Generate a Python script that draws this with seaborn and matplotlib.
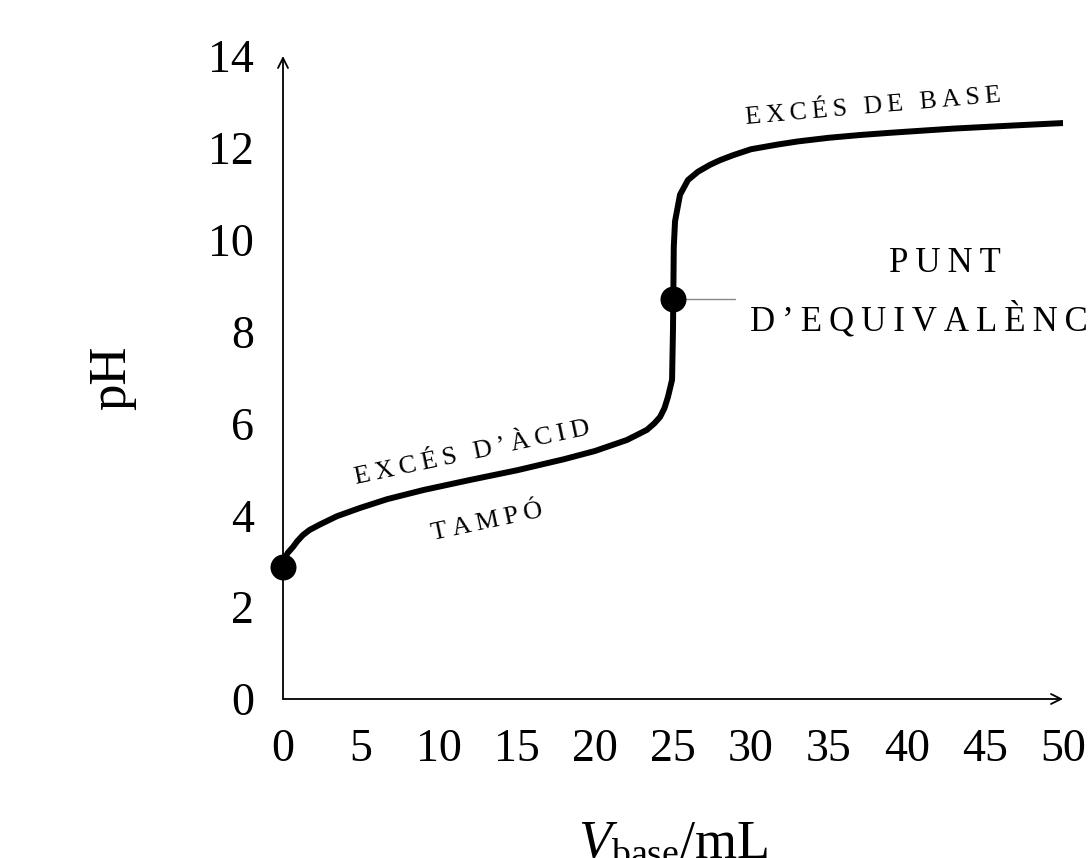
import numpy as np
import pandas as pd
import matplotlib
matplotlib.use('Agg')
import matplotlib.pyplot as plt
import seaborn as sns

sns.set_style("white")
plt.rcParams['font.family'] = ['Liberation Serif', 'DejaVu Serif']
plt.rcParams['mathtext.fontset'] = 'custom'
plt.rcParams['mathtext.rm'] = 'Liberation Serif'
plt.rcParams['mathtext.it'] = 'Liberation Serif:italic'
plt.rcParams['text.color'] = 'black'
plt.rcParams['axes.labelcolor'] = 'black'

# titration curve
v_base = [0, 0.13, 0.3, 0.64, 0.9, 1.28, 1.7, 2.37, 3.46, 4.94, 6.67, 9, 12, 15, 18, 20,
          22.05, 23.33, 23.8, 24.17, 24.45, 24.68, 24.94, 25.0, 25.0, 25.05, 25.13, 25.45,
          25.96, 26.6, 27.37, 28.0, 28.85, 30.0, 31.67, 33, 35, 37, 39, 43, 47, 50]
ph = [2.87, 3.07, 3.18, 3.31, 3.43, 3.57, 3.68, 3.8, 3.98, 4.16, 4.35, 4.55, 4.77, 4.98,
      5.22, 5.40, 5.64, 5.86, 6.0, 6.14, 6.33, 6.58, 6.95, 7.4, 8.72, 9.84, 10.4, 10.98,
      11.3, 11.48, 11.63, 11.73, 11.84, 11.97, 12.07, 12.14, 12.22, 12.28, 12.33, 12.42,
      12.49, 12.54]
pts_v = [0, 25]
pts_ph = [2.87, 8.72]
xticks = list(range(0, 51, 5))
yticks = list(range(0, 15, 2))

df = pd.DataFrame({"v": v_base, "ph": ph})
dots = pd.DataFrame({"v": pts_v, "ph": pts_ph})

def sc(s):
    # fake letter-spaced small caps
    return "\u2009".join(s.upper())

fig = plt.figure(figsize=(10.89, 8.58), dpi=100)
ax = fig.add_axes([283/1089, 1-699/858, 780/1089, 643/858])

sns.lineplot(data=df, x="v", y="ph", ax=ax, color="black", lw=4.3, sort=False)
sns.scatterplot(data=dots, x="v", y="ph", ax=ax, color="black", s=300,
                edgecolor="black", zorder=5, clip_on=False)

ax.set_xlim(0, 50)
ax.set_ylim(0, 14)
ax.set_xticks(xticks)
ax.set_yticks(yticks)
ax.tick_params(direction="inout", length=16, width=1, color="#999999",
               labelcolor="black", labelsize=33)
ax.tick_params(axis="x", pad=13)
ax.tick_params(axis="y", pad=13)
for s in ax.spines.values():
    s.set_visible(False)

# axis lines with arrow heads
for tip in [(1, 0), (0, 1)]:
    ax.annotate("", xy=tip, xytext=(0, 0), xycoords="axes fraction",
                arrowprops=dict(arrowstyle="->", lw=1.3, color="black",
                                shrinkA=0, shrinkB=0, mutation_scale=18))

ax.set_xlabel(r"$V_{\mathrm{base}}$/mL", fontsize=39, labelpad=35)
ax.set_ylabel("pH", fontsize=38, labelpad=52)

# labels along the curve
ax.text(12.1, 5.36, sc("excés d’àcid"), rotation=12, rotation_mode="anchor",
        ha="center", va="center", fontsize=19)
ax.text(13.1, 3.85, sc("tampó"), rotation=12, rotation_mode="anchor",
        ha="center", va="center", fontsize=19)
ax.text(37.8, 12.89, sc("excés de base"), rotation=5, rotation_mode="anchor",
        ha="center", va="center", fontsize=18.5)

# equivalence point pin
ax.plot([25, 29], [8.72, 8.72], color="#888888", lw=1)
ax.text(42.4, 9.49, sc("punt"), ha="center", va="center", fontsize=25)
ax.text(42.4, 8.25, sc("d’equivalència"), ha="center", va="center", fontsize=25,
        clip_on=False)

plt.savefig("out.png", dpi=100)
